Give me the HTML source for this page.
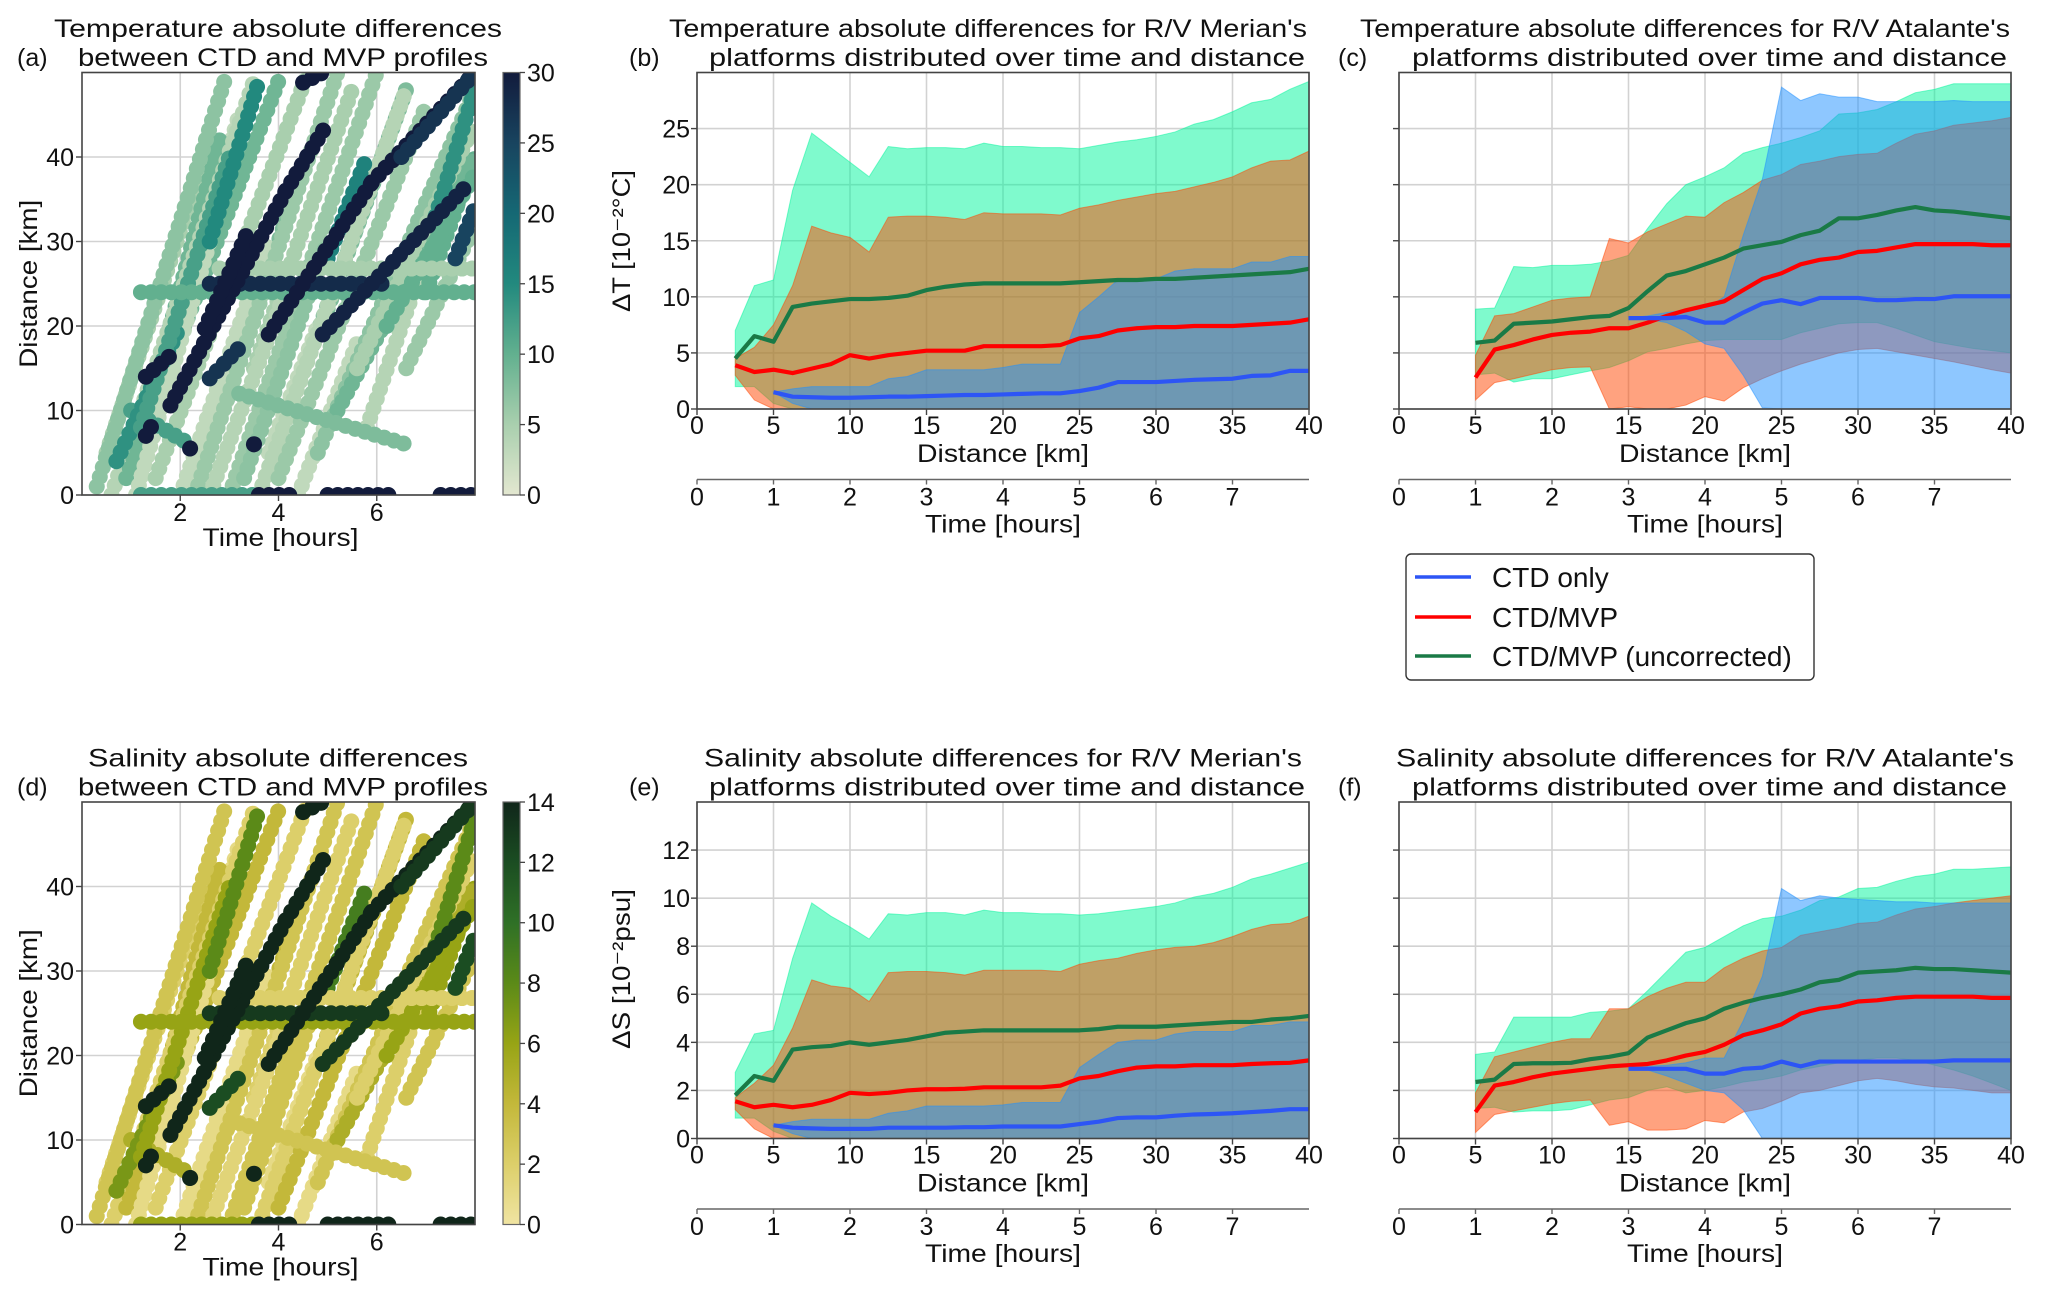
<!DOCTYPE html>
<html><head><meta charset="utf-8"><style>
html,body{margin:0;padding:0;background:#fff;}
svg{display:block;font-family:"Liberation Sans",sans-serif;}
</style></head><body>
<svg id="fig" width="2067" height="1298" viewBox="0 0 2067 1298" xmlns="http://www.w3.org/2000/svg">
<rect x="0" y="0" width="2067" height="1298" fill="#fff"/>
</svg>
<script>
// ---------------- DATA ----------------
const dist = [2.5,3.75,5,6.25,7.5,8.75,10,11.25,12.5,13.75,15,16.25,17.5,18.75,20,21.25,22.5,23.75,25,26.25,27.5,28.75,30,31.25,32.5,33.75,35,36.25,37.5,38.75,40];
const N=null;
// (b) Temperature, Merian
const bUncMid=[4.5,6.5,6.0,9.1,9.4,9.6,9.8,9.8,9.9,10.1,10.6,10.9,11.1,11.2,11.2,11.2,11.2,11.2,11.3,11.4,11.5,11.5,11.6,11.6,11.7,11.8,11.9,12.0,12.1,12.2,12.5];
const bUncHi=[7.0,11.0,11.5,19.5,24.6,23.3,22.0,20.7,23.4,23.2,23.3,23.3,23.2,23.7,23.4,23.4,23.3,23.3,23.2,23.5,23.8,24.0,24.3,24.7,25.4,25.8,26.5,27.3,27.6,28.5,29.2];
const bUncLo=[2.0,2.0,0.5,0,0,0,0,0,0,0,0,0,0,0,0,0,0,0,0,0,0,0,0,0,0,0,0,0,0,0,0];
const bCorMid=[3.9,3.3,3.5,3.2,3.6,4.0,4.8,4.5,4.8,5.0,5.2,5.2,5.2,5.6,5.6,5.6,5.6,5.7,6.3,6.5,7.0,7.2,7.3,7.3,7.4,7.4,7.4,7.5,7.6,7.7,8.0];
const bCorHi=[4.5,5.5,7.5,11.0,16.3,15.7,15.3,14.0,17.1,17.2,17.2,17.1,16.9,17.5,17.4,17.4,17.4,17.3,17.9,18.2,18.6,18.9,19.2,19.4,19.8,20.2,20.7,21.5,22.1,22.2,23.0];
const bCorLo=[3.0,0.8,0,0,0,0,0,0,0,0,0,0,0,0,0,0,0,0,0,0,0,0,0,0,0,0,0,0,0,0,0];
const bCtdMid=[N,N,1.5,1.1,1.05,1.0,1.0,1.05,1.1,1.1,1.15,1.2,1.25,1.25,1.3,1.35,1.4,1.4,1.6,1.9,2.4,2.4,2.4,2.5,2.6,2.65,2.7,2.95,3.0,3.4,3.4];
const bCtdHi=[N,N,1.5,1.8,2.0,2.0,2.0,2.0,2.7,2.9,3.5,3.5,3.5,3.5,3.7,4.0,4.0,4.0,8.6,10.0,11.5,11.6,11.6,12.3,12.5,12.5,12.5,13.1,13.1,13.6,13.6];
const bCtdLo=[N,N,1.5,0.5,0,0,0,0,0,0,0,0,0,0,0,0,0,0,0,0,0,0,0,0,0,0,0,0,0,0,0];
// (c) Temperature, Atalante
const cUncMid=[N,N,5.9,6.1,7.6,7.7,7.8,8.0,8.2,8.3,9.0,10.5,11.9,12.3,12.9,13.5,14.3,14.6,14.9,15.5,15.9,17.0,17.0,17.3,17.7,18.0,17.7,17.6,17.4,17.2,17.0];
const cUncHi=[N,N,8.9,9.0,12.7,12.6,12.8,12.8,12.9,13.2,13.7,16.1,18.3,20.0,20.7,21.5,22.8,23.3,23.7,24.2,24.8,26.3,26.4,26.7,27.4,28.2,28.5,29.0,29.0,29.0,29.0];
const cUncLo=[N,N,3.05,3.2,2.4,2.7,2.7,3.05,3.4,3.7,4.3,5.1,5.4,5.8,6.1,6.2,6.2,6.2,6.2,6.8,7.2,7.6,7.7,7.7,7.2,6.6,6.0,5.7,5.4,5.2,5.0];
const cCorMid=[N,N,2.8,5.3,5.7,6.2,6.6,6.8,6.9,7.2,7.2,7.7,8.3,8.8,9.2,9.6,10.6,11.6,12.1,12.9,13.3,13.5,14.0,14.1,14.4,14.7,14.7,14.7,14.7,14.6,14.6];
const cCorHi=[N,N,4.8,8.3,8.5,9.1,9.7,9.9,10.0,15.2,14.8,15.8,16.5,17.2,17.1,18.4,19.3,20.4,20.9,21.8,22.1,22.5,22.7,22.8,23.7,24.5,24.8,25.3,25.5,25.7,26.0];
const cCorLo=[N,N,0.8,2.35,2.7,3.1,3.5,3.7,3.75,0,0.2,0,0,0.35,1.1,0.7,1.9,2.7,3.4,4.0,4.5,5.0,5.3,5.4,5.1,4.8,4.5,4.2,3.85,3.5,3.2];
const cCtdMid=[N,N,N,N,N,N,N,N,N,N,8.1,8.1,8.1,8.2,7.7,7.7,8.6,9.4,9.7,9.35,9.9,9.9,9.9,9.7,9.7,9.8,9.8,10.05,10.05,10.05,10.05];
const cCtdHi=[N,N,N,N,N,N,N,N,N,N,8.1,8.3,8.6,8.8,8.9,10.0,15.5,20.5,28.7,27.5,28.1,27.8,27.8,27.4,27.4,27.4,27.4,27.5,27.4,27.4,27.4];
const cCtdLo=[N,N,N,N,N,N,N,N,N,N,8.1,8.0,7.7,6.9,5.8,5.4,3.0,0.1,0,0,0,0,0,0,0,0,0,0,0,0,0];
// (e) Salinity, Merian
const eUncMid=[1.8,2.6,2.4,3.7,3.8,3.85,4.0,3.9,4.0,4.1,4.25,4.4,4.45,4.5,4.5,4.5,4.5,4.5,4.5,4.55,4.65,4.65,4.65,4.7,4.75,4.8,4.85,4.85,4.95,5.0,5.1];
const eUncHi=[2.75,4.35,4.5,7.5,9.8,9.25,8.8,8.3,9.35,9.3,9.4,9.4,9.3,9.5,9.4,9.4,9.35,9.35,9.3,9.35,9.45,9.55,9.65,9.8,10.05,10.2,10.45,10.8,11.0,11.25,11.5];
const eUncLo=[0.85,0.85,0.3,0,0,0,0,0,0,0,0,0,0,0,0,0,0,0,0,0,0,0,0,0,0,0,0,0,0,0,0];
const eCorMid=[1.55,1.3,1.4,1.3,1.4,1.6,1.9,1.85,1.9,2.0,2.05,2.05,2.07,2.13,2.13,2.13,2.13,2.2,2.5,2.6,2.8,2.95,3.0,3.0,3.05,3.05,3.05,3.1,3.13,3.15,3.25];
const eCorHi=[1.7,2.3,3.05,4.6,6.6,6.35,6.25,5.7,6.9,6.95,6.95,6.9,6.8,7.0,7.0,7.0,7.0,6.95,7.25,7.4,7.5,7.7,7.85,7.95,8.0,8.15,8.4,8.7,8.9,8.95,9.25];
const eCorLo=[1.2,0.4,0,0,0,0,0,0,0,0,0,0,0,0,0,0,0,0,0,0,0,0,0,0,0,0,0,0,0,0,0];
const eCtdMid=[N,N,0.55,0.45,0.42,0.4,0.4,0.4,0.45,0.45,0.45,0.45,0.47,0.47,0.5,0.5,0.5,0.5,0.6,0.7,0.85,0.88,0.88,0.95,1.0,1.02,1.05,1.1,1.15,1.22,1.22];
const eCtdHi=[N,N,0.55,0.7,0.8,0.8,0.8,0.8,1.05,1.15,1.35,1.35,1.35,1.35,1.4,1.5,1.5,1.5,2.95,3.5,4.0,4.1,4.1,4.35,4.45,4.45,4.45,4.7,4.7,4.85,4.85];
const eCtdLo=[N,N,0.55,0.2,0,0,0,0,0,0,0,0,0,0,0,0,0,0,0,0,0,0,0,0,0,0,0,0,0,0,0];
// (f) Salinity, Atalante
const fUncMid=[N,N,2.35,2.45,3.1,3.13,3.13,3.15,3.3,3.4,3.55,4.2,4.5,4.8,5.0,5.4,5.65,5.85,6.0,6.2,6.5,6.6,6.9,6.95,7.0,7.1,7.05,7.05,7.0,6.95,6.9];
const fUncHi=[N,N,3.5,3.6,5.05,5.05,5.05,5.05,5.25,5.3,5.4,6.15,6.95,7.75,7.95,8.4,8.85,9.15,9.25,9.5,9.9,10.05,10.4,10.45,10.7,10.9,11.0,11.2,11.2,11.25,11.3];
const fUncLo=[N,N,1.25,1.3,1.1,1.15,1.15,1.2,1.4,1.6,1.7,2.0,2.15,1.9,2.0,2.15,2.35,2.45,2.6,2.85,3.0,3.15,3.25,3.35,3.35,3.25,3.05,2.85,2.6,2.3,2.0];
const fCorMid=[N,N,1.1,2.2,2.35,2.55,2.7,2.8,2.9,3.0,3.05,3.1,3.25,3.45,3.6,3.9,4.3,4.5,4.75,5.2,5.4,5.5,5.7,5.75,5.85,5.9,5.9,5.9,5.9,5.85,5.85];
const fCorHi=[N,N,1.9,3.4,3.6,3.8,4.0,4.15,4.15,5.4,5.4,5.9,6.25,6.5,6.5,7.1,7.5,7.8,7.95,8.45,8.6,8.75,8.95,9.0,9.3,9.55,9.65,9.8,9.9,10.0,10.1];
const fCorLo=[N,N,0.25,1.0,1.15,1.3,1.45,1.55,1.6,0.55,0.7,0.35,0.35,0.4,0.75,0.65,1.1,1.25,1.55,1.9,2.0,2.2,2.4,2.5,2.4,2.25,2.15,2.1,2.0,1.9,1.9];
const fCtdMid=[N,N,N,N,N,N,N,N,N,N,2.9,2.9,2.9,2.9,2.7,2.7,2.9,2.95,3.2,3.0,3.2,3.2,3.2,3.2,3.2,3.2,3.2,3.25,3.25,3.25,3.25];
const fCtdHi=[N,N,N,N,N,N,N,N,N,N,2.9,3.0,3.05,3.15,3.35,3.35,4.9,6.75,10.4,9.9,10.1,10.0,9.95,9.9,9.85,9.85,9.8,9.8,9.8,9.8,9.8];
const fCtdLo=[N,N,N,N,N,N,N,N,N,N,2.9,2.85,2.6,2.3,2.0,1.9,1.2,0,0,0,0,0,0,0,0,0,0,0,0,0,0];
// tick labels
const distTicks=[0,5,10,15,20,25,30,35,40];
const timeTicks=[0,1,2,3,4,5,6,7];
const tempTicks=[0,5,10,15,20,25];
const salTicks=[0,2,4,6,8,10,12];
const scatTimeTicks=[2,4,6];
const scatDistTicks=[0,10,20,30,40];
const cbTempTicks=[0,5,10,15,20,25,30];
const cbSalTicks=[0,2,4,6,8,10,12,14];
// scatter tracks (time h, distance km) start/end and colour values
const trkT0=[0.5,1.4,1.8,2.8,3.5,4.2,5.0,5.8,6.6,7.0,2.2,3.8, 0.3,0.6,0.9,1.1,1.5,2.0,2.3,2.6,3.0,3.3,3.6,4.0,4.4,4.8,5.2,5.6,6.2,3.2,1.0,0.7,1.2,2.6,5.0,7.2,1.2,2.8,2.6,1.2,3.6,5.0,7.3,1.8,4.15,3.8,5.9,4.9,2.5,2.6,1.3,2.2,3.5,4.5,6.5,7.6,1.3];
const trkD0=[5,10,20,10,15,10,22,8,15,24,0,5, 1,0,2,0,2,0,0,0,0,2,0,2,0,5,10,15,20,12,10,4,8,30,28,33,24,26.8,25,0,0,0,0,10.6,36,19,37,19,19.7,13.8,7,5.5,6,48.8,40,28,14];
const trkT1=[2.5,3.2,2.8,4.6,5.5,6.0,6.6,7.8,8.0,8.0,3.0,4.8, 2.9,3.5,4.0,2.6,4.6,3.8,5.2,4.2,6.0,5.0,6.6,7.0,5.6,8.0,8.0,8.0,8.0,6.6,2.2,2.0,3.0,3.6,5.8,8.0,8,8,6.2,3.5,4.4,6.4,8,4.15,5.0,5.9,8.0,7.9,3.4,3.3,1.5,2.3,3.6,4.9,8.0,8.0,1.9];
const trkD1=[40,45,42,40,48,38,48,42,32,40,12,20, 49,49,49,30,50,30,50,25,50,30,48,46,18,48,40,44,38,6,6,20,40,49,40,48,24,26.8,25,0,0,0,0,36,44,37,50,37,31.5,18,9,6.5,7,50,50,34,17];
const trkValT=[5,3,9,8,5,9,8,4,6,10,2,3, 7,4,9,3,5,3,6,4,6,7,4,6,3,7,9,5,10,8,12,14,12,15,16,14,10,5,28,12,30,30,30,30,30,30,30,29,30,27,30,30,30,30,27,25,30];
const trkValS=[2,1,4,4,2,5,4,2,3,6,1,1, 3,2,4,1,2,1,3,1.5,3,3,2,4,1,3,5,2,6,3,5,7,6,8,9,8,6,2,13,6,14,14,14,14,14,14,14,13,14,12,14,14,14,14,13,12,14];

// ---------------- HELPERS ----------------
const NS='http://www.w3.org/2000/svg';
const svg=document.getElementById('fig');
function mk(tag,attrs,parent){const e=document.createElementNS(NS,tag);for(const k in attrs)e.setAttribute(k,attrs[k]);(parent||svg).appendChild(e);return e;}
function txt(s,x,y,size,anchor,extra){const e=mk('text',Object.assign({x:x,y:y,'font-size':size,'text-anchor':anchor||'start',fill:'#111'},extra||{}));e.textContent=s;return e;}
const GRID='#d2d2d2', SPINE='#444';

function bandPanel(P){
  const xs=v=>P.x0+(v-0)/(40-0)*(P.x1-P.x0);
  const ys=v=>P.y1-(v/P.ymax)*(P.y1-P.y0);
  const g=mk('g',{});
  
  
  distTicks.forEach(t=>{const l=mk('line',{x1:xs(t),x2:xs(t),y1:P.y0,y2:P.y1,stroke:GRID,'stroke-width':1.6},g);
    
    });
  P.yt.forEach(t=>{const l=mk('line',{x1:P.x0,x2:P.x1,y1:ys(t),y2:ys(t),stroke:GRID,'stroke-width':1.6},g);
    
    });
  const clipId='clip'+P.name;
  const cp=mk('clipPath',{id:clipId},g);mk('rect',{x:P.x0,y:P.y0,width:P.x1-P.x0,height:P.y1-P.y0},cp);
  const plot=mk('g',{'clip-path':'url(#'+clipId+')'},g);
  function band(lo,hi,color,nm){
    const idx=dist.map((d,i)=>i).filter(i=>hi[i]!==null);
    let pts=idx.map(i=>xs(dist[i])+','+ys(hi[i]));
    pts=pts.concat(idx.slice().reverse().map(i=>xs(dist[i])+','+ys(lo[i])));
    const p=mk('polygon',{points:pts.join(' '),fill:color,'fill-opacity':0.5,stroke:color,'stroke-opacity':0.5,'stroke-width':1},plot);
    
    
  }
  function line(mid,color,nm){
    const idx=dist.map((d,i)=>i).filter(i=>mid[i]!==null);
    const p=mk('polyline',{points:idx.map(i=>xs(dist[i])+','+ys(mid[i])).join(' '),fill:'none',stroke:color,'stroke-width':4.2,'stroke-linejoin':'round'},plot);
    
    
  }
  band(P.uLo,P.uHi,'#00f59c','uncorrected-range-band');
  band(P.rLo,P.rHi,'#ff4500','ctd-mvp-range-band');
  band(P.cLo,P.cHi,'#1e90ff','ctd-only-range-band');
  line(P.uMid,'#1a7a46','uncorrected-line');
  line(P.rMid,'#ff0000','ctd-mvp-line');
  line(P.cMid,'#2d55f5','ctd-only-line');
  const fr=mk('rect',{x:P.x0,y:P.y0,width:P.x1-P.x0,height:P.y1-P.y0,fill:'none',stroke:SPINE,'stroke-width':1.6},g);
  
  
  P.yt.forEach(t=>{mk('line',{x1:P.x0-6,x2:P.x0,y1:ys(t),y2:ys(t),stroke:SPINE,'stroke-width':1.4},g);
    if(P.ylab){const e=txt(String(t),P.x0-7,ys(t)+9,25,'end');
      
      }});
  distTicks.forEach(t=>{mk('line',{x1:xs(t),x2:xs(t),y1:P.y1,y2:P.y1+6,stroke:SPINE,'stroke-width':1.4},g);
    const e=txt(String(t),xs(t),P.y1+25,25,'middle');
    
    });
  const xl=txt('Distance [km]',(P.x0+P.x1)/2,P.y1+53,25,'middle',{textLength:172,lengthAdjust:'spacingAndGlyphs'});
  
  
  const sy=P.y1+70.5;
  const sl=mk('line',{x1:P.x0,x2:P.x1,y1:sy,y2:sy,stroke:'#666','stroke-width':1.6},g);
  
  
  timeTicks.forEach(t=>{const x=xs(t*5);mk('line',{x1:x,x2:x,y1:sy,y2:sy+5,stroke:'#666','stroke-width':1.4},g);
    const e=txt(String(t),x,sy+26,25,'middle');
    
    });
  const tl=txt('Time [hours]',(P.x0+P.x1)/2,sy+53,25,'middle',{textLength:156,lengthAdjust:'spacingAndGlyphs'});
  
  
}

function lerpColor(stops,v){
  if(v<=stops[0][0])return stops[0][1];
  for(let i=1;i<stops.length;i++){if(v<=stops[i][0]){const a=stops[i-1],b=stops[i];const f=(v-a[0])/(b[0]-a[0]);
    const ca=hex(a[1]),cb=hex(b[1]);return 'rgb('+ca.map((c,k)=>Math.round(c+(cb[k]-c)*f)).join(',')+')';}}
  return stops[stops.length-1][1];
}
function hex(h){return [1,3,5].map(i=>parseInt(h.substr(i,2),16));}
const cmapT=[[0,'#e3e7d0'],[5,'#a9cfae'],[10,'#62b08f'],[15,'#22897e'],[20,'#156874'],[25,'#18445f'],[30,'#121b3c']];
const cmapS=[[0,'#f0e4a2'],[2,'#dccf6a'],[4,'#c3b83a'],[6,'#97a415'],[8,'#5b8a18'],[10,'#2f7026'],[12,'#1b4d22'],[14,'#10261a']];

function scatterPanel(P){
  const xs=t=>P.x0+t/8*(P.x1-P.x0);
  const ys=d=>P.y1-d/50*(P.y1-P.y0);
  const g=mk('g',{});
  
  
  scatTimeTicks.forEach(t=>mk('line',{x1:xs(t),x2:xs(t),y1:P.y0,y2:P.y1,stroke:GRID,'stroke-width':1.6},g));
  scatDistTicks.forEach(t=>mk('line',{x1:P.x0,x2:P.x1,y1:ys(t),y2:ys(t),stroke:GRID,'stroke-width':1.6},g));
  const clipId='clip'+P.name;
  const cp=mk('clipPath',{id:clipId},g);mk('rect',{x:P.x0,y:P.y0,width:P.x1-P.x0,height:P.y1-P.y0},cp);
  const plot=mk('g',{'clip-path':'url(#'+clipId+')'},g);
  trkT0.forEach((t0,i)=>{
    const l=mk('line',{x1:xs(t0),y1:ys(trkD0[i]),x2:xs(trkT1[i]),y2:ys(trkD1[i]),stroke:lerpColor(P.cmap,P.vals[i]),'stroke-width':16,'stroke-linecap':'round','stroke-dasharray':'0.1 10'},plot);
    
    
  });
  const fr=mk('rect',{x:P.x0,y:P.y0,width:P.x1-P.x0,height:P.y1-P.y0,fill:'none',stroke:SPINE,'stroke-width':1.6},g);
  
  
  scatDistTicks.forEach(t=>{mk('line',{x1:P.x0-6,x2:P.x0,y1:ys(t),y2:ys(t),stroke:SPINE,'stroke-width':1.4},g);
    const e=txt(String(t),P.x0-8,ys(t)+9,25,'end');
    
    });
  scatTimeTicks.forEach(t=>{mk('line',{x1:xs(t),x2:xs(t),y1:P.y1,y2:P.y1+6,stroke:SPINE,'stroke-width':1.4},g);
    const e=txt(String(t),xs(t),P.y1+26,25,'middle');
    
    });
  const xl=txt('Time [hours]',(P.x0+P.x1)/2+2,P.y1+51,25,'middle',{textLength:156,lengthAdjust:'spacingAndGlyphs'});
  
  
  const yl=txt('Distance [km]',0,0,25,'middle',{transform:'translate(37,'+((P.y0+P.y1)/2)+') rotate(-90)',textLength:168,lengthAdjust:'spacingAndGlyphs'});
  
  
  const gid='grad'+P.name;
  const gr=mk('linearGradient',{id:gid,x1:0,y1:1,x2:0,y2:0},g);
  P.cmap.forEach(s=>mk('stop',{offset:s[0]/P.cmax,'stop-color':s[1]},gr));
  const cb=mk('rect',{x:503,y:P.y0,width:17,height:P.y1-P.y0,fill:'url(#'+gid+')',stroke:'#666','stroke-width':1.2},g);
  
  
  P.cticks.forEach(t=>{const y=P.y1-t/P.cmax*(P.y1-P.y0);mk('line',{x1:520,x2:525,y1:y,y2:y,stroke:'#444','stroke-width':1.3},g);
    const e=txt(String(t),527,y+9,25,'start');
    
    });
}

// ---------------- PANELS ----------------
const TOP=72.5, BOT=409, OFF=729.5;
scatterPanel({name:'panel-a-temperature-scatter',x0:82,x1:475,y0:TOP,y1:495,cmap:cmapT,vals:trkValT,cmax:30,cticks:cbTempTicks});
scatterPanel({name:'panel-d-salinity-scatter',x0:82,x1:475,y0:TOP+OFF,y1:495+OFF,cmap:cmapS,vals:trkValS,cmax:14,cticks:cbSalTicks});
bandPanel({name:'panel-b-temp-merian',x0:697,x1:1309,y0:TOP,y1:BOT,ymax:30,yt:tempTicks,ylab:true,
  uMid:bUncMid,uHi:bUncHi,uLo:bUncLo,rMid:bCorMid,rHi:bCorHi,rLo:bCorLo,cMid:bCtdMid,cHi:bCtdHi,cLo:bCtdLo});
bandPanel({name:'panel-c-temp-atalante',x0:1399,x1:2011,y0:TOP,y1:BOT,ymax:30,yt:tempTicks,ylab:false,
  uMid:cUncMid,uHi:cUncHi,uLo:cUncLo,rMid:cCorMid,rHi:cCorHi,rLo:cCorLo,cMid:cCtdMid,cHi:cCtdHi,cLo:cCtdLo});
bandPanel({name:'panel-e-sal-merian',x0:697,x1:1309,y0:TOP+OFF,y1:BOT+OFF,ymax:14,yt:salTicks,ylab:true,
  uMid:eUncMid,uHi:eUncHi,uLo:eUncLo,rMid:eCorMid,rHi:eCorHi,rLo:eCorLo,cMid:eCtdMid,cHi:eCtdHi,cLo:eCtdLo});
bandPanel({name:'panel-f-sal-atalante',x0:1399,x1:2011,y0:TOP+OFF,y1:BOT+OFF,ymax:14,yt:salTicks,ylab:false,
  uMid:fUncMid,uHi:fUncHi,uLo:fUncLo,rMid:fCorMid,rHi:fCorHi,rLo:fCorLo,cMid:fCtdMid,cHi:fCtdHi,cLo:fCtdLo});

// ---------------- TITLES / LABELS ----------------
const titles=[
 ['Temperature absolute differences',54,37,448,'panel-a-title'],
 ['between CTD and MVP profiles',78,66,410,'panel-a-title-line2'],
 ["Temperature absolute differences for R/V Merian's",669,37,638,'panel-b-title'],
 ['platforms distributed over time and distance',709,66,596,'panel-b-title-line2'],
 ["Temperature absolute differences for R/V Atalante's",1360,37,650,'panel-c-title'],
 ['platforms distributed over time and distance',1412,66,595,'panel-c-title-line2'],
 ['Salinity absolute differences',88,37+OFF,380,'panel-d-title'],
 ['between CTD and MVP profiles',78,66+OFF,410,'panel-d-title-line2'],
 ["Salinity absolute differences for R/V Merian's",704,37+OFF,598,'panel-e-title'],
 ['platforms distributed over time and distance',709,66+OFF,596,'panel-e-title-line2'],
 ["Salinity absolute differences for R/V Atalante's",1396,37+OFF,618,'panel-f-title'],
 ['platforms distributed over time and distance',1412,66+OFF,595,'panel-f-title-line2']];
titles.forEach(a=>{const e=txt(a[0],a[1],a[2],25,'start',{textLength:a[3],lengthAdjust:'spacingAndGlyphs'});
  
  });
const letters=[['(a)',17,66],['(b)',629,66],['(c)',1338,66],['(d)',17,66+OFF],['(e)',629,66+OFF],['(f)',1338,66+OFF]];
letters.forEach(a=>{const e=txt(a[0],a[1],a[2],25,'start');
  
  });
(function(){
  const t=mk('text',{transform:'translate(630,241) rotate(-90)','font-size':25,'text-anchor':'middle',fill:'#111',textLength:142,lengthAdjust:'spacingAndGlyphs'});
  t.textContent='ΔT [10⁻²°C]';
  
  
  const s=mk('text',{transform:'translate(630,'+(969)+') rotate(-90)','font-size':25,'text-anchor':'middle',fill:'#111',textLength:160,lengthAdjust:'spacingAndGlyphs'});
  s.textContent='ΔS [10⁻²psu]';
  
  
})();
// ---------------- LEGEND ----------------
(function(){
  const g=mk('g',{});
  
  
  mk('rect',{x:1406,y:554,width:408,height:126,rx:5,fill:'#fff',stroke:'#333','stroke-width':1.4},g);
  const items=[['CTD only','#2d55f5',577],['CTD/MVP','#ff0000',617],['CTD/MVP (uncorrected)','#1a7a46',656]];
  items.forEach(it=>{
    const l=mk('line',{x1:1415,x2:1471,y1:it[2],y2:it[2],stroke:it[1],'stroke-width':3.5},g);
    
    
    const t=txt(it[0],1492,it[2]+10,28,'start');
    
    
  });
})();
</script>
</body></html>
